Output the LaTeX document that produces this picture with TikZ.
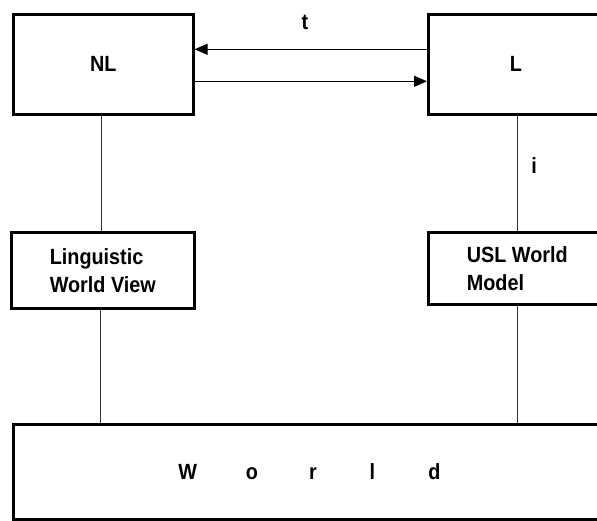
\documentclass[tikz,border=0pt]{standalone}
\usepackage{fontspec}
\setmainfont{Liberation Sans}[FakeStretch=0.9]
\usetikzlibrary{arrows.meta}
\begin{document}
\begin{tikzpicture}[x=1pt,y=-1pt,
  box/.style={draw=black,line width=2.6pt,fill=white,inner sep=0pt,
    font=\fontsize{22}{28}\selectfont\bfseries},
  link/.style={draw=black!80,line width=0.8pt},
  arr/.style={draw=black,line width=1.2pt,-{Triangle[length=13pt,width=11pt]}},
  lbl/.style={font=\fontsize{22}{28}\selectfont\bfseries,inner sep=0pt}]
\useasboundingbox (0,0) rectangle (597,521);
\clip (0,0) rectangle (597,521);

% upper row: natural language and formal language
\node[box,anchor=north west,minimum width=180pt,minimum height=100pt] (nl) at (12,13) {NL};
\node[box,anchor=north west,minimum width=175pt,minimum height=100pt] (l) at (427,13) {L};

% middle row: the two views of the world
\node[box,anchor=north west,minimum width=183pt,minimum height=76pt,align=left] (ling) at (10,231) {Linguistic\\World View};
\node[box,anchor=north west,minimum width=178pt,minimum height=72pt,align=left] (usl) at (427,231) {USL World\\Model};

% the world itself
\node[box,anchor=north west,minimum width=592pt,minimum height=95pt] (world) at (12,423)
  {W\hspace{49pt}o\hspace{51pt}r\hspace{53pt}l\hspace{53pt}d};

% translation arrows between NL and L
\draw[arr] ([yshift=15pt]l.west) -- ([yshift=15pt]nl.east);
\draw[arr] ([yshift=-17pt]nl.east) -- ([yshift=-17pt]l.west);
\node[lbl] (t) at (305,22) {t};

% vertical links
\draw[link] ([xshift=-2pt]nl.south) -- ([xshift=-2pt]nl.south |- ling.north);
\draw[link] ([xshift=-2pt]ling.south) -- ([xshift=-2pt]ling.south |- world.north);
\draw[link] ([xshift=1.5pt]l.south) -- ([xshift=1.5pt]l.south |- usl.north);
\draw[link] (usl.south) -- (usl.south |- world.north);
\node[lbl] (i) at (534,166) {i};
\end{tikzpicture}
\end{document}
